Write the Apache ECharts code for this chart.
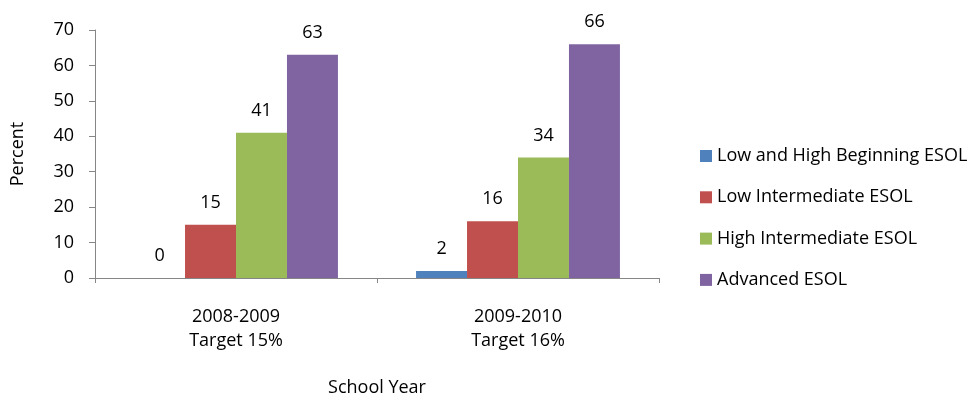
<!DOCTYPE html>
<html>
<head>
<meta charset="utf-8">
<script src="https://cdn.jsdelivr.net/npm/echarts@6/dist/echarts.min.js"></script>
<style>
  html, body { margin: 0; padding: 0; background: #fff; }
  #chart { width: 974px; height: 394px; }
</style>
</head>
<body>
<div id="chart"></div>
<script>
// School years shown on the category axis
const schoolYears = ['2008-2009\nTarget 15%', '2009-2010\nTarget 16%'];

// Percent of students by ESOL level, one array per level
const lowHighBeginning = [0, 2];
const lowIntermediate = [15, 16];
const highIntermediate = [41, 34];
const advanced = [63, 66];

const seriesNames = [
  'Low and High Beginning ESOL',
  'Low Intermediate ESOL',
  'High Intermediate ESOL',
  'Advanced ESOL'
];
const seriesValues = [lowHighBeginning, lowIntermediate, highIntermediate, advanced];
const seriesColors = ['#4F81BD', '#C0504D', '#9BBB59', '#8064A2'];

const yTicks = { min: 0, max: 70, interval: 10 };

const FONT = 'Open Sans';
const FS = 18;
const TEXT = '#000000';
const AXIS = '#868686';

const chart = echarts.init(document.getElementById('chart'), null, { renderer: 'canvas' });

chart.setOption({
  animation: false,
  textStyle: { fontFamily: FONT, color: TEXT },
  grid: { left: 95, top: 30, width: 564, height: 248, containLabel: false, outerBoundsMode: 'none' },
  legend: {
    orient: 'vertical',
    left: 695,
    top: 141,
    itemWidth: 12,
    itemHeight: 12,
    itemGap: 21.3,
    icon: 'rect',
    textStyle: { fontFamily: FONT, fontSize: FS, lineHeight: 20, color: TEXT, padding: [0, 0, 0, 0] },
    data: seriesNames
  },
  xAxis: {
    type: 'category',
    data: schoolYears,
    name: 'School Year',
    nameLocation: 'middle',
    nameGap: 101,
    nameTextStyle: { fontFamily: FONT, fontSize: FS, color: TEXT },
    axisLine: { lineStyle: { color: AXIS, width: 1 } },
    axisTick: { show: true, length: 5, lineStyle: { color: AXIS } },
    axisLabel: { fontFamily: FONT, fontSize: FS, color: TEXT, lineHeight: 24, margin: 27 },
    splitLine: { show: false }
  },
  yAxis: {
    type: 'value',
    min: yTicks.min,
    max: yTicks.max,
    interval: yTicks.interval,
    name: 'Percent',
    nameLocation: 'middle',
    nameGap: 68,
    nameRotate: 90,
    nameTextStyle: { fontFamily: FONT, fontSize: FS, color: TEXT },
    axisLine: { show: true, lineStyle: { color: AXIS, width: 1 } },
    axisTick: { show: true, length: 6, lineStyle: { color: AXIS } },
    axisLabel: { fontFamily: FONT, fontSize: FS, color: TEXT, margin: 21 },
    splitLine: { show: false }
  },
  series: seriesNames.map((name, i) => ({
    name: name,
    type: 'bar',
    data: seriesValues[i],
    barGap: '0%',
    barCategoryGap: '27.7%',
    itemStyle: { color: seriesColors[i] },
    label: {
      show: true,
      position: 'top',
      distance: 13,
      fontFamily: FONT,
      fontSize: FS,
      color: TEXT
    }
  }))
});
</script>
</body>
</html>
